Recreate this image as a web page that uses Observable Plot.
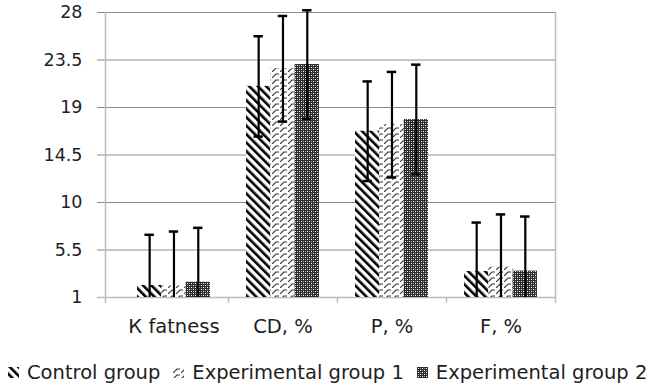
<!DOCTYPE html>
<html><head><meta charset="utf-8">
<script src="https://cdn.jsdelivr.net/npm/d3@7"></script>
<script src="https://cdn.jsdelivr.net/npm/@observablehq/plot@0.6"></script>
<style>
body{margin:0;background:#fff;font-family:"DejaVu Sans",sans-serif;color:#1e1e1e}
#chart svg{display:block}
.legend{display:flex;align-items:center;height:54px;padding-left:8px;font-size:19.5px;white-space:nowrap}
.item{display:flex;align-items:center;margin-right:13px}
.item svg{margin-right:8px;display:block}
</style></head><body>
<svg width="0" height="0" style="position:absolute">
<defs>
 <pattern id="pControl" width="6" height="6" patternUnits="userSpaceOnUse" patternTransform="rotate(-45)">
  <rect width="6" height="6" fill="#fff"/><rect width="2.6" height="6" fill="#000"/>
 </pattern>
 <pattern id="pExp1" width="8" height="6" patternUnits="userSpaceOnUse">
  <rect width="8" height="6" fill="#fff"/>
  <path d="M0,6 L4,2 L7,2" fill="none" stroke="#333" stroke-width="1.1"/>
 </pattern>
 <pattern id="pExp2" width="4" height="4" patternUnits="userSpaceOnUse">
  <rect width="4" height="4" fill="#2c2c2c"/>
  <rect x="1" y="1" width="1" height="1" fill="#fff"/>
  <rect x="3" y="3" width="1" height="1" fill="#fff"/>
  <rect x="1" y="3" width="1" height="1" fill="#a0a0a0"/>
  <rect x="3" y="1" width="1" height="1" fill="#a0a0a0"/>
 </pattern>
</defs></svg>
<div id="chart"></div>
<div class="legend" id="legend"></div>
<script>
const categories = ["К fatness", "CD, %", "P, %", "F, %"];
const groups = ["Control group", "Experimental group 1", "Experimental group 2"];
const control = [2.14, 21.0, 16.75, 3.46];
const exp1 = [2.1, 22.67, 17.37, 3.87];
const exp2 = [2.45, 23.07, 17.86, 3.5];
const controlErr = [4.8, 4.75, 4.72, 4.64];
const exp1Err = [5.15, 5.0, 5.0, 5.0];
const exp2Err = [5.15, 5.14, 5.2, 5.17];
const yTicks = [1, 5.5, 10, 14.5, 19, 23.5, 28];

const patterns = ["url(#pControl)", "url(#pExp1)", "url(#pExp2)"];
const values = [control, exp1, exp2];
const errors = [controlErr, exp1Err, exp2Err];
const rows = [];
categories.forEach((c, i) => groups.forEach((g, j) =>
  rows.push({cat: c, i, j, group: g, value: values[j][i], err: errors[j][i]})));

const bw = 0.223;            // bar width in category units
const xLeft = -0.628, xRight = 3.5;
const cx = d => d.i + (d.j - 1) * bw;

const barMarks = groups.map((g, j) => Plot.rect(rows.filter(d => d.j === j), {
  x1: d => d.i + (d.j - 1.5) * bw, x2: d => d.i + (d.j - 0.5) * bw,
  y1: 1, y2: "value", fill: patterns[j]
}));

const chart = Plot.plot({
  width: 648, height: 345,
  marginLeft: 105, marginRight: 93, marginTop: 12, marginBottom: 48,
  style: {fontFamily: "DejaVu Sans, sans-serif", fontSize: "17.5px", color: "#1e1e1e", background: "#fff", overflow: "visible"},
  x: {domain: [xLeft, xRight], axis: null},
  y: {domain: [1, 28], ticks: yTicks, tickFormat: d => String(d), tickSize: 0, tickPadding: 23, label: null},
  marks: [
    Plot.ruleY(yTicks, {stroke: "#8c8c8c", strokeWidth: 1, insetLeft: -8}),
    Plot.ruleY([1], {stroke: "#bdbdbd", strokeWidth: 1.5, insetLeft: -8}),
    Plot.ruleX([xLeft, xRight], {y1: 28, y2: 1, stroke: "#bdbdbd", strokeWidth: 1.5, insetBottom: -6}),
    Plot.ruleX([0.5, 1.5, 2.5], {y1: 1, y2: 1, stroke: "#bdbdbd", strokeWidth: 1.5, insetBottom: -6}),
    ...barMarks,
    Plot.ruleX(rows, {x: cx, y1: d => Math.max(1, d.value - d.err), y2: d => d.value + d.err, stroke: "#000", strokeWidth: 2.2}),
    Plot.ruleY(rows, {x1: cx, x2: cx, y: d => d.value + d.err, insetLeft: -4.7, insetRight: -4.7, stroke: "#000", strokeWidth: 2.5}),
    Plot.ruleY(rows.filter(d => d.value - d.err >= 1), {x1: cx, x2: cx, y: d => d.value - d.err, insetLeft: -4.7, insetRight: -4.7, stroke: "#000", strokeWidth: 2.5}),
    Plot.text(categories, {x: (d, i) => i, frameAnchor: "bottom", dy: 35, fontSize: 19.5, fill: "#1e1e1e"})
  ]
});
document.getElementById("chart").appendChild(chart);

const legend = d3.select("#legend");
groups.forEach((g, j) => {
  const item = legend.append("div").attr("class", "item");
  const s = item.append("svg").attr("width", 11).attr("height", 11);
  s.append("rect").attr("width", 11).attr("height", 11).attr("fill", patterns[j]);
  item.append("span").text(g);
});
</script>
</body></html>
